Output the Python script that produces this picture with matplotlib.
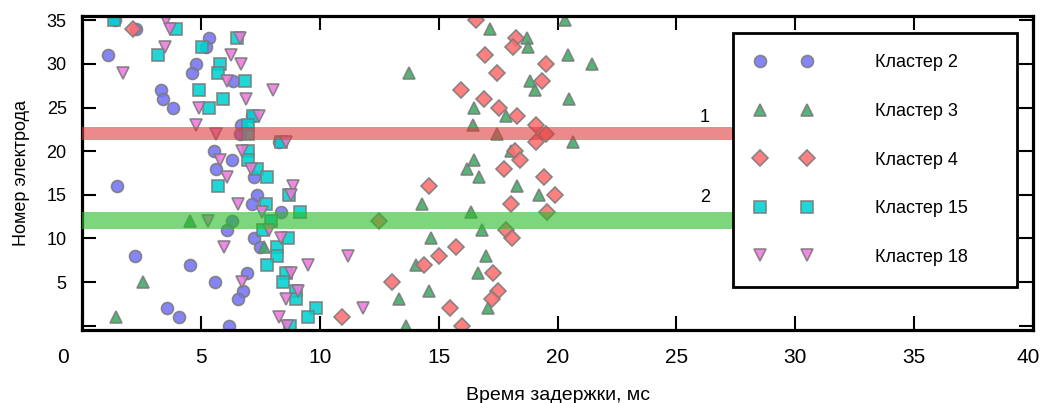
import matplotlib

matplotlib.use("Agg")
import matplotlib.pyplot as plt
from matplotlib.transforms import ScaledTranslation

plt.rcParams["font.family"] = ["Liberation Sans", "DejaVu Sans"]

# electrode numbers, top to bottom; delays (ms) per cluster in the same order
electrodes = list(range(35, -1, -1))
cl2 = [1.40, 2.27, 5.34, 5.20, 1.08, 4.79, 4.64, 6.33, 3.31, 3.39, 3.84, 7.16, 6.67, 6.64, 8.30, 5.56, 6.29, 5.62,
       7.24, 1.48, 7.34, 7.13, 8.36, 6.29, 6.08, 7.23, 7.48, 2.23, 4.54, 6.95, 5.59, 6.78, 6.57, 3.56, 4.09, 6.19]
cl3 = [20.33, 17.15, 18.73, 18.76, 20.42, 21.45, 13.76, 18.83, 19.07, 20.48, 16.48, 17.82, 16.45, 17.46, 20.66, 18.03,
       16.48, 16.20, 16.69, 18.31, 19.21, 14.32, 16.38, 4.54, 16.84, 14.67, 7.65, 17.01, 14.03, 16.66, 2.55, 14.60,
       13.32, 17.08, 1.43, 13.62]
cl4 = [16.59, 2.16, 18.27, 18.13, 16.97, 19.50, 17.47, 19.35, 15.96, 16.91, 17.53, 18.30, 19.11, 19.50, 19.08, 18.20,
       18.41, 17.75, 19.43, 14.59, 19.88, 18.06, 19.57, 12.48, 17.82, 18.09, 15.71, 15.02, 14.39, 17.29, 13.02, 17.50,
       17.26, 15.47, 10.92, 15.99]
cl15 = [1.36, 3.94, 6.50, 5.03, 3.18, 5.80, 5.73, 6.85, 4.92, 5.91, 5.34, 7.20, 6.99, 6.99, 8.36, 6.97, 7.00, 7.37,
        7.80, 5.73, 8.69, 7.72, 9.16, 7.97, 7.62, 8.65, 8.21, 8.21, 7.80, 8.60, 8.46, 9.02, 9.02, 9.86, 9.51, 8.74]
cl18 = [3.53, 3.70, 6.64, 3.50, 6.25, 6.68, 1.71, 6.08, 8.04, 6.90, 4.93, 7.44, 4.79, 5.62, 8.60, 6.75, 5.80, 7.10,
        6.08, 8.86, 8.80, 6.57, 7.55, 5.31, 7.87, 8.35, 5.98, 11.17, 9.49, 8.77, 6.71, 9.09, 8.60, 11.82, 8.28, 8.63]

clusters = [
    ("Кластер 2", cl2, "o", "#7474f6", 8.6),
    ("Кластер 3", cl3, "^", "#3dab64", 9.2),
    ("Кластер 4", cl4, "D", "#ff6e6e", 8.0),
    ("Кластер 15", cl15, "s", "#00d2d2", 8.2),
    ("Кластер 18", cl18, "v", "#f078e1", 8.8),
]

# bands: (low, high, label, colour, label y)
bands = [(21.3, 22.8, "1", "#dc3c3c", 23.9), (11.1, 13.0, "2", "#26bb26", 14.7)]

fig = plt.figure(figsize=(10.42, 4.03), dpi=100)
ax = fig.add_axes([0.0787, 0.1811, 0.9127, 0.7792])

for name, xs, m, c, ms in clusters:
    ax.plot(xs, electrodes, linestyle="none", marker=m, markersize=ms, markerfacecolor=c,
            markeredgecolor="#7a7a7a", markeredgewidth=1.2, alpha=0.88, label=name, zorder=2)

for lo, hi, lab, c, ty in bands:
    ax.axhspan(lo, hi, xmin=0, xmax=0.684, color=c, alpha=0.6, lw=0, zorder=3)
    ax.text(26.2, ty, lab, fontsize=13, ha="center", va="center")

ax.set_xlim(0, 40)
ax.set_ylim(-0.5, 35.5)
ax.set_xticks(range(0, 41, 5))
ax.set_yticks(range(0, 36, 5))
ax.set_yticklabels([""] + [str(v) for v in range(5, 36, 5)])
ax.tick_params(direction="in", length=10, width=1.5, top=True, right=True, labelsize=13)
ax.tick_params(axis="y", pad=11)
ax.tick_params(axis="x", pad=13)
xl = ax.get_xticklabels()
for lbl in xl:
    lbl.set_fontsize(15)
xl[0].set_transform(xl[0].get_transform() + ScaledTranslation(-0.19, 0, fig.dpi_scale_trans))
xl[-1].set_transform(xl[-1].get_transform() + ScaledTranslation(-0.05, 0, fig.dpi_scale_trans))
for s in ax.spines.values():
    s.set_linewidth(2.3)

ax.set_ylabel("Номер электрода", fontsize=13, labelpad=12)
ax.set_xlabel("Время задержки, мс", fontsize=14, labelpad=14)

leg = ax.legend(loc="upper left", bbox_to_anchor=(0.684, 0.138, 0.299, 0.809), mode="expand",
                borderaxespad=0, numpoints=2, handlelength=3.2, handletextpad=3.5, borderpad=1.2,
                labelspacing=1.75, fontsize=13, fancybox=False, framealpha=1, edgecolor="black")
leg.get_frame().set_linewidth(2.0)

fig.savefig("out.png", dpi=100)
